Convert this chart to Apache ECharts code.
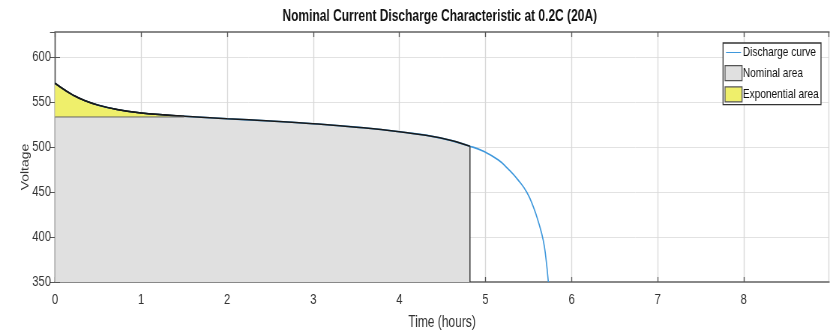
<!DOCTYPE html>
<html><head><meta charset="utf-8">
<script src="https://cdn.jsdelivr.net/npm/echarts@6/dist/echarts.min.js"></script>
<style>
html,body{margin:0;padding:0;background:#fff;overflow:hidden}
#wrap{width:833px;height:334px;overflow:hidden;position:relative}
#c{width:1111px;height:334px;transform:scaleX(0.74977);transform-origin:0 0;position:absolute;left:0;top:0}
</style>
</head><body><div id="wrap"><div id="c"></div></div>
<script>
// Discharge curve samples
const timeHours = [0, 0.1, 0.2, 0.33, 0.5, 0.72, 1.0, 1.25, 1.5, 2.0, 2.5, 3.0, 3.5, 4.0, 4.47, 4.82, 4.99, 5.15, 5.26, 5.38, 5.48, 5.555, 5.62, 5.67, 5.70, 5.73];
const voltage   = [571, 564.3, 558.3, 552.3, 546.7, 541.9, 538, 535.9, 534.3, 531.6, 529, 526, 522.2, 517, 510.3, 501, 494.8, 485.6, 476, 463.3, 449.7, 433.7, 415, 396.7, 378, 350];
const nominalVoltage = 533.5;
const nominalEndTime = 4.82;
const expEndTime = 1.5;
const xTicks = [0, 1, 2, 3, 4, 5, 6, 7, 8];
const yTicks = [350, 400, 450, 500, 550, 600];

const curve = timeHours.map((t, i) => [t, voltage[i]]);
const nominalPts = curve.filter(p => p[0] <= nominalEndTime);
const expPts = curve.filter(p => p[0] <= expEndTime);
const nominalEndV = nominalPts[nominalPts.length - 1][1];

const S = 0.74977;            // horizontal compression of the whole figure
const px = v => v / S;        // final-pixel -> container-pixel (horizontal only)
const FONT = '"Liberation Sans", Arial, sans-serif';
const chart = echarts.init(document.getElementById('c'), null, {renderer: 'canvas', width: 1111, height: 334});
const vLine = {show: true, lineStyle: {color: '#4d4d4d', width: 1.3}};
const hLine = {show: true, lineStyle: {color: '#888', width: 2}};
const tickX = {show: true, inside: true, length: 5, lineStyle: {color: '#555', width: 1.3}};
const tickY = {show: true, inside: true, length: px(5), lineStyle: {color: '#555', width: 1}};
const lineIcon = 'path://M0,0 L0.01,0 L0.01,0.01 Z M0,6.9 L20,6.9 L20,8.1 L0,8.1 Z M0,15 L0.01,15 L0.01,15.01 Z';
const SMOOTH = 0.5;
chart.setOption({
  animation: false,
  backgroundColor: '#fff',
  title: {
    text: 'Nominal Current Discharge Characteristic at 0.2C (20A)',
    left: px(436), top: 4, textAlign: 'center',
    textStyle: {fontFamily: FONT, fontSize: 16, fontWeight: 'bold', color: '#111'}
  },
  grid: {left: px(55), right: px(4), top: 32, bottom: 52, outerBoundsMode: 'none', containLabel: false},
  legend: {
    orient: 'vertical', right: px(12), top: 43,
    backgroundColor: '#fff', borderColor: '#333', borderWidth: 1.3, borderRadius: 0,
    padding: [2, 3, 2, 2], itemGap: 5, itemWidth: px(17), itemHeight: 15,
    textStyle: {fontFamily: FONT, fontSize: 13.5, color: '#111', padding: [0, 0, 0, -4]},
    data: [
      {name: 'Discharge curve', icon: lineIcon, itemStyle: {color: '#3f98dc', borderWidth: 0}},
      {name: 'Nominal area', icon: 'rect', itemStyle: {color: '#e0e0e0', borderColor: '#555', borderWidth: 1.3}},
      {name: 'Exponential area', icon: 'rect', itemStyle: {color: '#efef6b', borderColor: '#555', borderWidth: 1.3}}
    ]
  },
  xAxis: [{
    type: 'value', min: 0, max: 8.99, interval: 1,
    name: 'Time (hours)', nameLocation: 'middle', nameGap: 33, nameMoveOverlap: false,
    nameTextStyle: {fontFamily: FONT, fontSize: 16, color: '#333'},
    axisLine: hLine, axisTick: tickX,
    axisLabel: {fontFamily: FONT, fontSize: 15, color: '#333', margin: 10, showMaxLabel: false,
      formatter: v => xTicks.includes(v) ? String(v) : ''},
    splitLine: {show: true, lineStyle: {color: '#d8d8d8', width: 1.3}}
  }, {
    type: 'value', min: 0, max: 8.99, interval: 1, position: 'top',
    axisLine: hLine, axisTick: tickX, axisLabel: {show: false}, splitLine: {show: false}
  }],
  yAxis: [{
    type: 'value', min: 350, max: 628, interval: 50,
    name: 'Voltage', nameLocation: 'middle', nameGap: 32, nameMoveOverlap: false,
    nameTextStyle: {fontFamily: FONT, fontSize: 14, color: '#333', padding: [0, 20, 0, 0]},
    axisLine: vLine, axisTick: tickY,
    axisLabel: {fontFamily: FONT, fontSize: 15, color: '#333', margin: px(4), showMaxLabel: false,
      formatter: v => yTicks.includes(v) ? String(v) : ''},
    splitLine: {show: true, lineStyle: {color: '#e2e2e2', width: 1}}
  }, {
    type: 'value', min: 350, max: 628, interval: 50, position: 'right',
    axisLine: vLine, axisTick: tickY, axisLabel: {show: false}, splitLine: {show: false}
  }],
  series: [
    {
      name: 'Discharge curve', type: 'line', data: curve, symbol: 'none',
      smooth: SMOOTH,
      lineStyle: {color: '#3f98dc', width: 1.6}, itemStyle: {color: '#3f98dc'}
    },
    {
      name: 'Nominal area', type: 'line', data: nominalPts, symbol: 'none',
      smooth: SMOOTH,
      lineStyle: {color: '#1a1a1a', width: 1.5}, itemStyle: {color: '#e0e0e0'},
      areaStyle: {color: '#e0e0e0', opacity: 1, origin: 'start'}
    },
    {
      name: 'Exponential area', type: 'line', data: expPts, symbol: 'none',
      smooth: SMOOTH,
      lineStyle: {color: '#1a1a1a', width: 1.5}, itemStyle: {color: '#efef6b'},
      areaStyle: {color: '#efef6b', opacity: 1, origin: nominalVoltage}
    },
    {
      name: 'nominalLevel', type: 'line', symbol: 'none', silent: true,
      data: [[0, nominalVoltage], [expEndTime, nominalVoltage]],
      lineStyle: {color: '#666', width: 1}
    },
    {
      name: 'nominalEnd', type: 'line', symbol: 'none', silent: true,
      data: [[nominalEndTime, 350], [nominalEndTime, nominalEndV]],
      lineStyle: {color: '#333', width: 1.4}
    }
  ]
});
</script></body></html>
